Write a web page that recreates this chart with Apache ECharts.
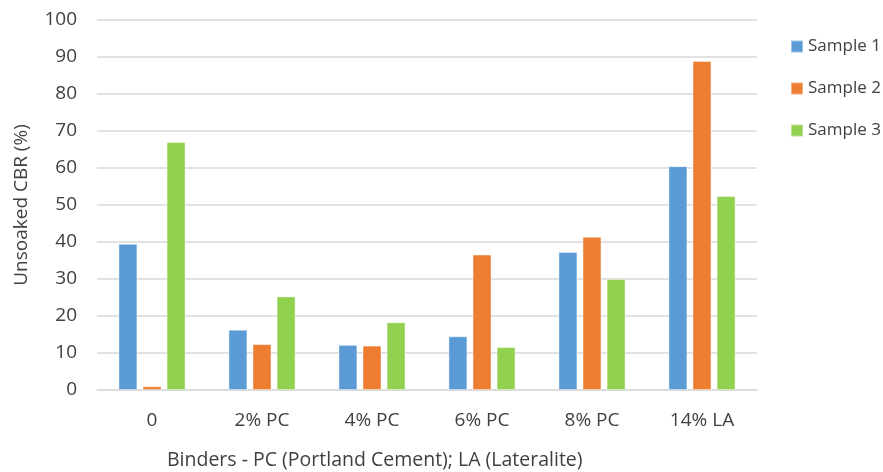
<!DOCTYPE html>
<html><head><meta charset="utf-8">
<script src="https://cdn.jsdelivr.net/npm/echarts@6/dist/echarts.min.js"></script>
<style>html,body{margin:0;padding:0;background:#fff}#c{width:883px;height:472px}</style>
</head><body><div id="c"></div>
<script>
const categories = ['0', '2% PC', '4% PC', '6% PC', '8% PC', '14% LA'];
const sample1 = [39.5, 16.3, 12.2, 14.5, 37.3, 60.5];
const sample2 = [1.0, 12.4, 12.0, 36.6, 41.4, 88.9];
const sample3 = [67.0, 25.3, 18.3, 11.6, 30.0, 52.4];
const seriesNames = ['Sample 1', 'Sample 2', 'Sample 3'];
const colors = ['#5B9BD5', '#ED7D31', '#92D050'];
const FONT = 'Open Sans';
const chart = echarts.init(document.getElementById('c'));
const mk = (name, data, i) => ({
  name, type: 'bar', data,
  barGap: '27%', barCategoryGap: '39%',
  itemStyle: { color: colors[i], borderColor: 'rgba(255,255,255,0.4)', borderWidth: 1 }
});
chart.setOption({
  animation: false,
  color: colors,
  textStyle: { fontFamily: FONT },
  title: {
    text: 'Binders - PC (Portland Cement); LA (Lateralite)',
    left: 162, top: 445,
    textStyle: { fontFamily: FONT, fontSize: 19.5, fontWeight: 'normal', color: '#404040' }
  },
  legend: {
    orient: 'vertical', left: 785, top: 33,
    itemWidth: 12, itemHeight: 12, itemGap: 25, icon: 'rect',
    textStyle: { fontFamily: FONT, fontSize: 17, color: '#404040' },
    data: seriesNames
  },
  grid: { left: 97, right: 126, top: 20, bottom: 82, containLabel: false },
  xAxis: {
    type: 'category', data: categories,
    axisLine: { lineStyle: { color: '#d9d9d9', width: 1.5 } },
    axisTick: { show: false },
    axisLabel: { fontFamily: FONT, fontSize: 19, color: '#404040', margin: 21 }
  },
  yAxis: {
    type: 'value', min: 0, max: 100, interval: 10,
    name: 'Unsoaked CBR (%)', nameLocation: 'middle', nameGap: 66, nameRotate: 90,
    nameTextStyle: { fontFamily: FONT, fontSize: 19, color: '#404040' },
    axisLine: { show: false }, axisTick: { show: false },
    axisLabel: { fontFamily: FONT, fontSize: 19, color: '#404040', margin: 20 },
    splitLine: { lineStyle: { color: '#d9d9d9', width: 1.5 } }
  },
  series: [mk(seriesNames[0], sample1, 0), mk(seriesNames[1], sample2, 1), mk(seriesNames[2], sample3, 2)]
});
</script></body></html>
